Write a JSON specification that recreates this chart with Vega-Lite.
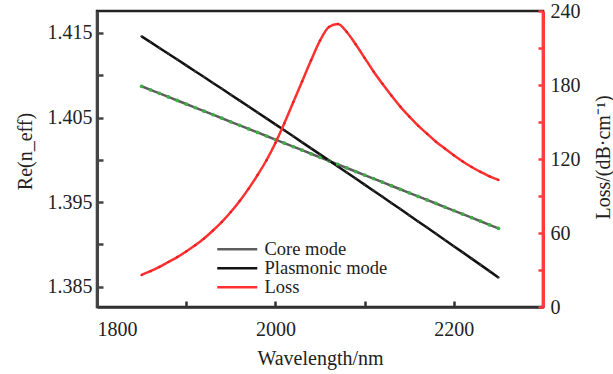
{
  "$schema": "https://vega.github.io/schema/vega-lite/v6.json",
  "width": 446,
  "height": 296,
  "autosize": "none",
  "padding": {"left": 97, "top": 11, "right": 70, "bottom": 67},
  "background": "white",
  "config": {
    "view": {"stroke": "#222222", "strokeWidth": 2.5},
    "font": "Liberation Serif",
    "axis": {
      "labelFont": "Liberation Serif",
      "titleFont": "Liberation Serif",
      "labelFontSize": 20,
      "titleFontSize": 20,
      "titleFontWeight": "normal",
      "labelColor": "#222222",
      "titleColor": "#222222",
      "grid": false
    },
    "legend": {
      "orient": "none",
      "legendX": 131,
      "legendY": 229,
      "symbolType": "M-4,0H4",
      "symbolSize": 100,
      "symbolStrokeWidth": 2.5,
      "labelFont": "Liberation Serif",
      "labelFontSize": 18.5,
      "labelColor": "#222222",
      "labelOffset": 18,
      "rowPadding": -6,
      "title": null
    }
  },
  "data": {
    "values": [
      {"wl": 1850, "Core mode": 1.4087, "Plasmonic mode": 1.4146, "Loss": 26},
      {"wl": 1860, "Core mode": 1.40828, "Plasmonic mode": 1.41392, "Loss": 29},
      {"wl": 1870, "Core mode": 1.40786, "Plasmonic mode": 1.41323, "Loss": 32.5},
      {"wl": 1880, "Core mode": 1.40744, "Plasmonic mode": 1.41254, "Loss": 36.5},
      {"wl": 1890, "Core mode": 1.40702, "Plasmonic mode": 1.41186, "Loss": 40.5},
      {"wl": 1900, "Core mode": 1.4066, "Plasmonic mode": 1.41117, "Loss": 45},
      {"wl": 1910, "Core mode": 1.40618, "Plasmonic mode": 1.41048, "Loss": 50},
      {"wl": 1920, "Core mode": 1.40576, "Plasmonic mode": 1.40979, "Loss": 55.5},
      {"wl": 1930, "Core mode": 1.40534, "Plasmonic mode": 1.40909, "Loss": 62},
      {"wl": 1940, "Core mode": 1.40492, "Plasmonic mode": 1.4084, "Loss": 69},
      {"wl": 1950, "Core mode": 1.4045, "Plasmonic mode": 1.4077, "Loss": 77},
      {"wl": 1960, "Core mode": 1.40408, "Plasmonic mode": 1.407, "Loss": 86},
      {"wl": 1970, "Core mode": 1.40366, "Plasmonic mode": 1.4063, "Loss": 96},
      {"wl": 1980, "Core mode": 1.40324, "Plasmonic mode": 1.4056, "Loss": 107},
      {"wl": 1990, "Core mode": 1.40282, "Plasmonic mode": 1.4049, "Loss": 119},
      {"wl": 2000, "Core mode": 1.4024, "Plasmonic mode": 1.40419, "Loss": 133},
      {"wl": 2010, "Core mode": 1.40198, "Plasmonic mode": 1.40349, "Loss": 149},
      {"wl": 2020, "Core mode": 1.40156, "Plasmonic mode": 1.40278, "Loss": 166},
      {"wl": 2030, "Core mode": 1.40114, "Plasmonic mode": 1.40207, "Loss": 183},
      {"wl": 2040, "Core mode": 1.40072, "Plasmonic mode": 1.40136, "Loss": 200},
      {"wl": 2050, "Core mode": 1.4003, "Plasmonic mode": 1.40065, "Loss": 216},
      {"wl": 2060, "Core mode": 1.39988, "Plasmonic mode": 1.39994, "Loss": 227},
      {"wl": 2070, "Core mode": 1.39946, "Plasmonic mode": 1.39922, "Loss": 229.5},
      {"wl": 2080, "Core mode": 1.39904, "Plasmonic mode": 1.3985, "Loss": 223},
      {"wl": 2090, "Core mode": 1.39862, "Plasmonic mode": 1.39779, "Loss": 213},
      {"wl": 2100, "Core mode": 1.3982, "Plasmonic mode": 1.39707, "Loss": 202},
      {"wl": 2110, "Core mode": 1.39778, "Plasmonic mode": 1.39635, "Loss": 191},
      {"wl": 2120, "Core mode": 1.39736, "Plasmonic mode": 1.39563, "Loss": 181},
      {"wl": 2130, "Core mode": 1.39694, "Plasmonic mode": 1.3949, "Loss": 171.5},
      {"wl": 2140, "Core mode": 1.39652, "Plasmonic mode": 1.39418, "Loss": 162.5},
      {"wl": 2150, "Core mode": 1.3961, "Plasmonic mode": 1.39345, "Loss": 154.5},
      {"wl": 2160, "Core mode": 1.39568, "Plasmonic mode": 1.39272, "Loss": 147},
      {"wl": 2170, "Core mode": 1.39526, "Plasmonic mode": 1.39199, "Loss": 140.5},
      {"wl": 2180, "Core mode": 1.39484, "Plasmonic mode": 1.39126, "Loss": 134},
      {"wl": 2190, "Core mode": 1.39442, "Plasmonic mode": 1.39053, "Loss": 128.5},
      {"wl": 2200, "Core mode": 1.394, "Plasmonic mode": 1.38979, "Loss": 123},
      {"wl": 2210, "Core mode": 1.39358, "Plasmonic mode": 1.38906, "Loss": 118},
      {"wl": 2220, "Core mode": 1.39316, "Plasmonic mode": 1.38832, "Loss": 113.5},
      {"wl": 2230, "Core mode": 1.39274, "Plasmonic mode": 1.38758, "Loss": 109.5},
      {"wl": 2240, "Core mode": 1.39232, "Plasmonic mode": 1.38684, "Loss": 106},
      {"wl": 2250, "Core mode": 1.3919, "Plasmonic mode": 1.3861, "Loss": 103}
    ]
  },
  "encoding": {
    "x": {
      "field": "wl",
      "type": "quantitative",
      "scale": {"domain": [1800, 2300], "nice": false},
      "axis": {
        "title": "Wavelength/nm",
        "values": [1800, 1900, 2000, 2100, 2200, 2300],
        "format": "d",
        "labelExpr": "datum.value % 200 == 0 ? datum.label : ''",
        "tickSize": -6,
        "tickWidth": 2.5,
        "tickColor": "#333333",
        "domainColor": "#333333",
        "domainWidth": 2.5,
        "labelPadding": 18,
        "titleY": 51,
        "titleBaseline": "middle"
      }
    }
  },
  "layer": [
    {
      "transform": [{"fold": ["Core mode", "Plasmonic mode"], "as": ["series", "value"]}],
      "encoding": {
        "y": {
          "field": "value",
          "type": "quantitative",
          "scale": {"domain": [1.3826, 1.4176], "nice": false, "zero": false},
          "axis": {
            "orient": "left",
            "title": "Re(n_eff)",
            "values": [1.385, 1.39, 1.395, 1.4, 1.405, 1.41, 1.415],
            "labelExpr": "indexof(['1.385','1.395','1.405','1.415'], format(datum.value, '.3f')) >= 0 ? format(datum.value, '.3f') : ''",
            "tickSize": -6,
            "tickWidth": 2.5,
            "tickColor": "#444444",
            "domainColor": "#444444",
            "domainWidth": 3,
            "labelPadding": 11,
            "titleX": -72,
            "titleY": 140,
            "titleBaseline": "middle"
          }
        }
      },
      "layer": [
        {
          "mark": {"type": "line", "strokeWidth": 2.5},
          "encoding": {
            "color": {
              "field": "series",
              "type": "nominal",
              "scale": {"domain": ["Core mode", "Plasmonic mode", "Loss"], "range": ["#5e5e5e", "#111111", "#ff3030"]}
            }
          }
        },
        {
          "transform": [{"filter": "datum.series == 'Core mode'"}],
          "mark": {"type": "point", "filled": true, "size": 14, "color": "#3cb043", "opacity": 1},
          "encoding": {}
        },
        {
          "transform": [{"filter": "datum.series == 'Plasmonic mode'"}],
          "mark": {"type": "point", "filled": true, "size": 6, "color": "#333333", "opacity": 1},
          "encoding": {}
        }
      ]
    },
    {
      "encoding": {
        "y": {
          "field": "Loss",
          "type": "quantitative",
          "scale": {"domain": [0, 240], "nice": false},
          "axis": {
            "orient": "right",
            "title": "Loss/(dB·cm⁻¹)",
            "values": [0, 30, 60, 90, 120, 150, 180, 210, 240],
            "labelExpr": "datum.value % 60 == 0 ? datum.label : ''",
            "tickSize": -5,
            "tickWidth": 2.5,
            "tickColor": "#ff3b3b",
            "domainColor": "#ff3b3b",
            "domainWidth": 3,
            "labelPadding": 12,
            "titleAngle": 270,
            "titleX": 60,
            "titleY": 146,
            "titleBaseline": "middle"
          }
        }
      },
      "layer": [
        {
          "mark": {"type": "line", "strokeWidth": 2.5, "interpolate": "monotone"},
          "encoding": {"color": {"datum": "Loss"}}
        },
        {
          "mark": {"type": "point", "filled": true, "size": 6, "color": "#e02020", "opacity": 1},
          "encoding": {}
        }
      ]
    }
  ],
  "resolve": {"scale": {"y": "independent"}}
}
